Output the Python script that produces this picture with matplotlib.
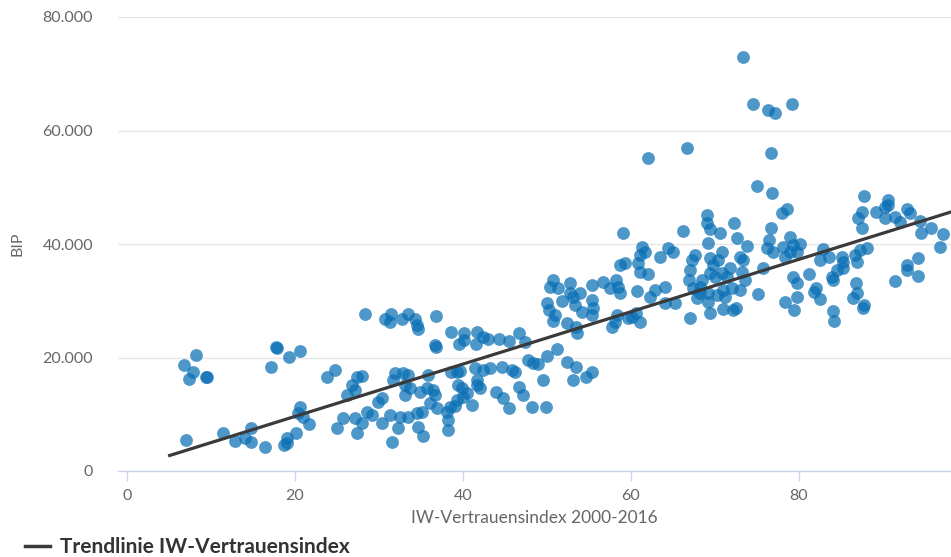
import matplotlib
matplotlib.use("Agg")
import matplotlib.pyplot as plt
from matplotlib.ticker import FuncFormatter
from matplotlib.lines import Line2D

# IW-Vertrauensindex (x) and BIP (y)
index_vals = [
    8.2, 6.8, 7.9, 7.4, 9.4, 9.5, 17.7, 17.8, 17.1, 19.3, 20.6, 23.8, 7.0, 11.4, 12.9, 14.0,
    14.8, 14.8, 16.4, 18.7, 19.0, 20.1, 20.6, 20.4, 21.0, 21.7, 19.0,
    28.3, 30.7, 31.4, 31.3, 32.7, 33.5, 34.3, 34.5, 34.6, 36.8, 36.7, 36.8, 38.6, 39.5, 40.1,
    40.1, 41.5, 41.7, 42.4, 43.0, 44.3, 45.5, 46.7, 24.8, 26.8, 27.4, 28.0, 27.1, 26.2, 25.7,
    25.0, 27.1, 27.4, 28.0, 28.6, 29.2, 29.9, 30.4, 30.4, 31.3, 31.5, 32.3, 32.5, 33.5, 31.7,
    31.9, 32.9, 33.5, 33.1, 33.7, 33.1, 34.5, 35.1, 34.6, 35.2, 34.9, 35.7, 35.8, 36.4, 36.7,
    36.1, 36.9, 38.1, 38.5, 38.2, 38.2, 39.0, 39.3, 38.6, 39.3, 39.7, 39.4, 39.9, 40.0, 40.5,
    41.1, 41.4, 41.7, 41.7, 42.0, 42.4, 43.2, 43.9, 44.6, 44.8, 45.5, 45.8, 46.2, 46.7,
    50.7, 50.4, 51.3, 52.7, 55.4, 56.7, 57.5, 58.2, 58.5, 58.7, 60.7, 50.0, 50.2, 51.0, 50.7,
    51.8, 52.7, 53.1, 53.9, 53.3, 54.2, 55.4, 55.5, 55.4, 52.4, 53.5, 53.6, 57.7, 58.1, 58.3,
    59.6, 60.1, 60.6, 61.1, 62.3, 62.9, 64.0, 64.0, 65.2, 58.7, 59.3, 61.1, 60.8, 61.1, 62.0,
    63.5, 65.0, 47.4, 47.7, 48.3, 48.9, 50.0, 51.2, 52.4, 53.5, 49.5, 53.1, 54.6, 55.4, 47.1,
    48.2, 49.9, 59.0,
    75.0, 76.8, 78.0, 78.6, 69.0, 69.0, 69.4, 70.6, 72.3, 66.2, 72.6, 73.8, 76.7, 76.4, 76.2,
    76.9, 78.1, 78.9, 79.3, 78.3, 78.9, 79.8, 69.2, 70.8, 61.3, 61.7, 64.4, 67.6, 67.3, 67.0,
    66.9, 68.5, 68.2, 69.4, 69.8, 70.4, 69.4, 70.0, 70.8, 71.4, 71.8, 73.0, 73.3, 73.2, 73.6,
    73.0, 72.0, 71.0, 71.2, 70.2, 69.2, 68.2, 67.9, 69.2, 69.4, 71.0, 72.1, 72.5, 67.0, 67.4,
    75.7, 75.1, 79.3, 79.8, 78.3, 79.4, 79.8,
    87.7, 90.6, 90.6, 90.2, 89.2, 87.5, 87.0, 87.5, 90.2, 91.4, 92.0, 92.9, 93.2, 94.4, 94.5,
    95.7, 97.1, 96.8, 80.1, 82.9, 82.5, 83.6, 85.1, 85.2, 86.7, 87.3, 88.1, 86.9, 81.2, 82.0,
    81.8, 82.5, 83.9, 84.0, 84.5, 85.2, 86.8, 86.9, 86.4, 87.7, 87.6, 84.0, 84.2, 91.4, 92.9,
    92.9, 94.2, 94.2,
    73.3, 74.5, 76.3, 77.1, 79.2, 62.0, 66.7, 76.7,
]
bip_vals = [
    20400, 18700, 17400, 16200, 16600, 16500, 21900, 21700, 18300, 20100, 21100, 16600, 5500,
    6700, 5300, 5800, 7600, 5100, 4200, 4600, 5800, 6700, 11300, 10200, 9500, 8300, 4900,
    27700, 26800, 27700, 26300, 26800, 27700, 26800, 25700, 25000, 27300, 22200, 21900, 24500,
    22400, 24300, 23100, 22400, 24500, 23600, 23300, 23300, 22900, 24300, 17800, 15200, 16600,
    16700, 14300, 13400, 9300, 7600, 9300, 6700, 8500, 10400, 9900, 12200, 12900, 8500, 9900,
    5100, 7600, 9500, 9500, 16000, 17300, 17300, 16900, 15200, 14600, 13400, 10200, 10400,
    7800, 6200, 13900, 14600, 16900, 14300, 13400, 12000, 11100, 10400, 11300, 9000, 7200,
    11500, 12500, 17400, 17400, 17600, 15200, 14600, 13000, 13700, 11600, 18100, 16000, 15200,
    14600, 17800, 18100, 13900, 18300, 12900, 11100, 17800, 17400, 14800,
    33700, 32400, 32200, 33100, 32800, 33300, 32200, 33700, 32400, 31400, 31700, 29600, 28400,
    27500, 26400, 30000, 31400, 30700, 31400, 29300, 28000, 30100, 28700, 27500, 26100, 25400,
    24300, 25400, 26300, 27500, 27000, 27100, 27800, 26300, 30700, 31900, 32400, 29600, 29600,
    36300, 36700, 38100, 36700, 35100, 34700, 37700, 38600, 22700, 19600, 19000, 18900, 20300,
    21500, 19200, 18300, 16000, 16000, 16600, 17400, 13400, 11300, 11300, 41900,
    50200, 49000, 45500, 46200, 45100, 43700, 42600, 41900, 43700, 42300, 41100, 39600, 42800,
    40700, 39300, 38600, 39500, 41200, 39800, 37700, 38600, 38600, 40200, 38600, 39500, 38600,
    39300, 38100, 37200, 35400, 33700, 33700, 32400, 37500, 36300, 37200, 34900, 34200, 34900,
    34200, 35800, 37700, 37200, 35100, 33700, 31900, 32200, 31900, 30700, 31000, 31400, 31400,
    30500, 29800, 27800, 28500, 28400, 28700, 27000, 32200, 35800, 31200, 34200, 33100, 29800,
    28400, 30700,
    48500, 47800, 46900, 46500, 45600, 45600, 44600, 42800, 44600, 44800, 43900, 46200, 45500,
    44100, 41900, 42800, 41800, 39500, 40000, 39100, 37200, 37700, 37700, 36800, 38100, 38900,
    39300, 36800, 34700, 32200, 31500, 30300, 34200, 33700, 35400, 35800, 33100, 31400, 30500,
    29300, 28700, 28200, 26400, 33500, 36300, 35400, 37500, 34400,
    73000, 64700, 63600, 63100, 64700, 55200, 56900, 56000,
]

# Trendline end points
trend_x = [4.9, 100.0]
trend_y = [2650, 46520]

y_ticks = [0, 20000, 40000, 60000, 80000]
x_ticks = [0, 20, 40, 60, 80]

plt.rcParams['font.family'] = ['Lato', 'DejaVu Sans']

fig = plt.figure(figsize=(9.51, 5.57), dpi=100)
ax = fig.add_axes([118 / 951, 1 - 471 / 557, (951 - 118) / 951, (471 - 17) / 557])

ax.scatter(index_vals, bip_vals, s=85, color='#0a6fb5', alpha=0.72, linewidths=0, zorder=3,
           clip_on=False)
ax.plot(trend_x, trend_y, color='#3a3a3a', linewidth=2.3, zorder=4, solid_capstyle='butt')

ax.set_xlim(-1.07, 98.1)
ax.set_ylim(0, 80000)
ax.set_xticks(x_ticks)
ax.set_yticks(y_ticks)
ax.yaxis.set_major_formatter(FuncFormatter(lambda v, p: f"{v:,.0f}".replace(",", ".")))

ax.grid(axis='y', color='#e6e6e6', linewidth=1)
ax.set_axisbelow(True)
for s in ['top', 'right', 'left']:
    ax.spines[s].set_visible(False)
ax.spines['bottom'].set_color('#ccd6eb')
ax.spines['bottom'].set_linewidth(1)

ax.tick_params(axis='y', length=0, pad=18, labelsize=11.5, labelcolor='#666666')
ax.tick_params(axis='x', length=7, width=1, color='#ccd6eb', pad=6, labelsize=11.5,
               labelcolor='#666666')

ax.set_xlabel('IW-Vertrauensindex 2000-2016', fontsize=12.5, color='#666666', labelpad=5)
ax.set_ylabel('BIP', fontsize=11.5, color='#666666', labelpad=13)

handle = Line2D([], [], color='#3a3a3a', linewidth=2.5)
leg = fig.legend([handle], ['Trendlinie IW-Vertrauensindex'], loc='center left',
                 bbox_to_anchor=(25 / 951, 1 - 547 / 557), frameon=False, handlelength=1.2,
                 handletextpad=0.5, borderpad=0, borderaxespad=0,
                 prop={'weight': 'bold', 'size': 15})
for t in leg.get_texts():
    t.set_color('#333333')

fig.savefig('out.png', dpi=100)
